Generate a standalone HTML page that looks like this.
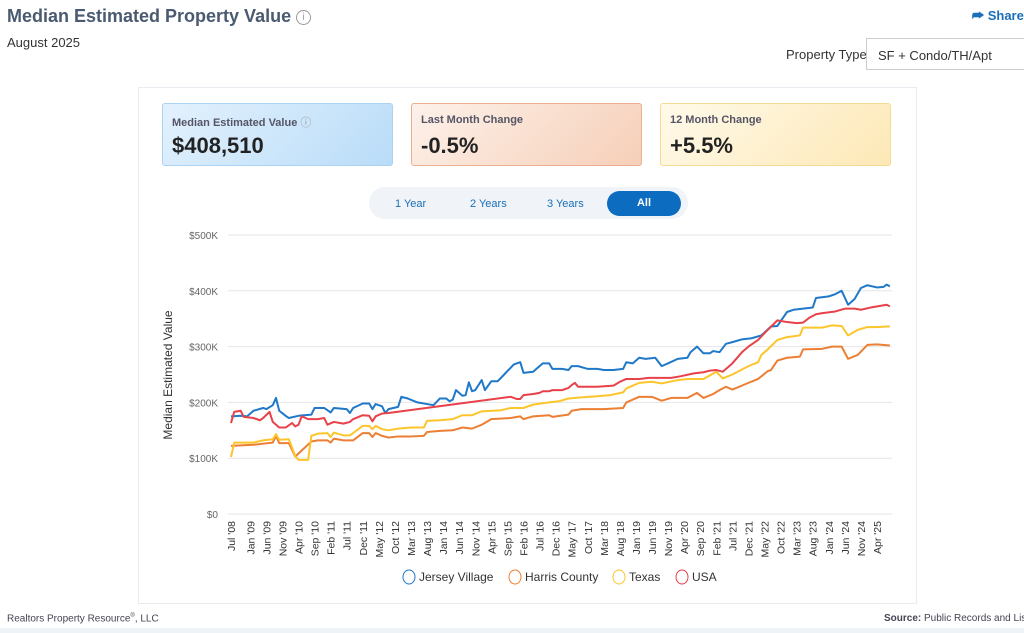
<!DOCTYPE html>
<html><head><meta charset="utf-8"><style>
body{margin:0;width:1024px;height:633px;background:#fff;font-family:"Liberation Sans",sans-serif;position:relative;overflow:hidden;color:#333}
.abs{position:absolute}
.card{position:absolute;top:103px;height:63px;width:231px;border-radius:3px;box-sizing:border-box}
.card .t{position:absolute;left:9px;top:10px;font-size:11px;font-weight:bold;color:#556}
.card .v{position:absolute;left:9px;top:29px;font-size:22px;font-weight:bold;color:#222}
.tog{position:absolute;top:198px;font-size:11px;color:#1a6fb8}
</style></head><body>
<div class="abs" style="left:7px;top:6px;font-size:18px;font-weight:bold;color:#4a5a70">Median Estimated Property Value <span style="display:inline-block;width:13px;height:13px;border:1px solid #999;border-radius:50%;font-size:10px;text-align:center;line-height:13px;color:#999;font-weight:normal;vertical-align:2px">i</span></div>
<div class="abs" style="left:7px;top:35px;font-size:13px">August 2025</div>
<div class="abs" style="left:972px;top:8px;font-size:13px;font-weight:bold;color:#1a6fb8">⮫ Share</div>
<div class="abs" style="left:786px;top:47px;font-size:13px">Property Type</div>
<div class="abs" style="left:866px;top:38px;width:170px;height:32px;border:1px solid #ccc;box-sizing:border-box;font-size:13px;padding:9px 0 0 11px">SF + Condo/TH/Apt</div>
<div class="abs" style="left:138px;top:87px;width:779px;height:517px;border:1px solid #e8ecf0;box-sizing:border-box"></div>
<div class="card" style="left:162px;background:linear-gradient(135deg,#e3f1fd,#b9dcf8);border:1px solid #a9d2f3"><div class="t">Median Estimated Value <span style="color:#999;font-weight:normal">ⓘ</span></div><div class="v">$408,510</div></div>
<div class="card" style="left:411px;background:linear-gradient(135deg,#fdf1ea,#f6cfb8);border:1px solid #eab08f"><div class="t">Last Month Change</div><div class="v">-0.5%</div></div>
<div class="card" style="left:660px;background:linear-gradient(135deg,#fffaea,#fde8b6);border:1px solid #f6dc92"><div class="t">12 Month Change</div><div class="v">+5.5%</div></div>
<div class="abs" style="left:369px;top:187px;width:319px;height:32px;background:#f0f3f7;border-radius:16px"></div>
<div class="tog" style="left:395px">1 Year</div>
<div class="tog" style="left:470px">2 Years</div>
<div class="tog" style="left:547px">3 Years</div>
<div class="abs" style="left:607px;top:191px;width:74px;height:25px;background:#0b6cc0;border-radius:13px;color:#fff;font-size:11px;font-weight:bold;text-align:center;line-height:25px">All</div>
<svg class="abs" style="left:0;top:0" width="1024" height="633" id="chart"></svg>
<div class="abs" style="left:0;top:606px;width:1024px;height:22px;font-size:10px"><span style="position:absolute;left:7px;top:7px;color:#445">Realtors Property Resource<sup style="font-size:6px">®</sup>, LLC</span><span style="position:absolute;left:884px;top:7px;color:#445;white-space:nowrap"><b>Source:</b> Public Records and Listings</span></div>
<div class="abs" style="left:0;top:628px;width:1024px;height:5px;background:#eef3f8"></div>
<script>
const yTicks=[0,100,200,300,400,500];
const xLabels=["Jul '08","Jan '09","Jun '09","Nov '09","Apr '10","Sep '10","Feb '11","Jul '11","Dec '11","May '12","Oct '12","Mar '13","Aug '13","Jan '14","Jun '14","Nov '14","Apr '15","Sep '15","Feb '16","Jul '16","Dec '16","May '17","Oct '17","Mar '18","Aug '18","Jan '19","Jun '19","Nov '19","Apr '20","Sep '20","Feb '21","Jul '21","Dec '21","May '22","Oct '22","Mar '23","Aug '23","Jan '24","Jun '24","Nov '24","Apr '25"];
const xLabelMonths=[0,6,11,16,21,26,31,36,41,46,51,56,61,66,71,76,81,86,91,96,101,106,111,116,121,126,131,136,141,146,151,156,161,166,171,176,181,186,191,196,201];
const seriesNames=["Jersey Village","Harris County","Texas","USA"];
const seriesColors=["#1f78c8","#ec7f33","#fcc52b","#e8414a"];
// [monthIndex from Jul 2008, value in $K]
const jerseyVillage=[[0,175],[3,176],[5,175],[7,185],[10,190],[11,188],[13,195],[14,208],[15,185],[17,176],[18,172],[21,176],[25,178],[26,190],[29,190],[31,182],[32,190],[36,188],[37,181],[38,190],[41,198],[43,198],[44,188],[45,197],[47,193],[48,181],[49,188],[52,192],[53,210],[55,207],[58,200],[61,197],[63,195],[65,207],[67,207],[68,202],[69,205],[70,222],[72,212],[73,213],[74,236],[75,220],[76,222],[78,240],[79,222],[81,238],[83,238],[85,250],[88,268],[90,272],[91,253],[94,255],[97,270],[99,270],[100,260],[103,260],[105,258],[106,265],[108,265],[111,260],[114,260],[116,258],[119,258],[122,260],[123,272],[125,270],[127,280],[129,278],[132,280],[134,265],[136,270],[139,278],[142,280],[143,290],[145,300],[147,288],[149,288],[150,292],[152,290],[154,305],[156,308],[159,313],[162,315],[165,320],[168,336],[170,337],[173,362],[175,366],[178,368],[181,370],[182,387],[186,390],[188,394],[190,400],[192,375],[194,385],[196,405],[198,410],[201,406],[203,407],[204,411],[205,408]];
const harrisCounty=[[0,122],[7,124],[10,126],[13,128],[14,140],[15,127],[18,127],[20,103],[25,130],[27,132],[30,132],[31,128],[32,135],[35,132],[38,132],[41,145],[43,145],[44,138],[45,145],[47,140],[49,137],[52,139],[56,139],[60,140],[61,147],[65,149],[69,150],[72,155],[75,153],[78,160],[81,170],[87,172],[90,175],[91,170],[94,175],[99,177],[100,174],[105,178],[106,185],[109,188],[116,188],[122,190],[123,200],[127,210],[131,210],[134,203],[137,208],[142,208],[145,217],[147,208],[150,215],[152,222],[154,228],[156,223],[161,235],[164,242],[167,256],[168,258],[170,275],[173,280],[177,282],[178,295],[184,296],[187,300],[190,300],[192,278],[195,285],[198,303],[201,304],[205,302]];
const texas=[[0,102],[1,128],[7,128],[10,132],[13,134],[14,143],[15,133],[18,134],[20,104],[21,97],[24,97],[25,140],[27,144],[30,145],[31,138],[32,146],[35,141],[37,141],[38,145],[41,158],[43,158],[44,152],[45,158],[47,152],[49,150],[52,153],[56,155],[60,155],[61,167],[65,168],[69,170],[72,177],[75,177],[78,184],[84,186],[87,190],[91,190],[94,196],[99,200],[102,202],[105,207],[109,209],[114,211],[118,213],[122,218],[123,225],[127,235],[131,237],[134,234],[139,240],[142,242],[145,242],[147,242],[151,255],[153,243],[156,250],[161,265],[164,272],[165,285],[167,295],[170,312],[173,317],[177,320],[178,334],[184,334],[187,338],[190,337],[192,320],[195,330],[198,335],[201,335],[204,336],[205,336]];
const usa=[[0,163],[1,183],[3,185],[4,174],[7,172],[9,168],[10,172],[12,183],[13,165],[15,155],[17,155],[19,163],[20,157],[21,160],[22,175],[24,170],[27,170],[29,172],[30,160],[32,165],[35,162],[37,165],[38,170],[41,177],[43,176],[44,166],[45,175],[47,180],[49,181],[87,210],[89,206],[90,206],[91,213],[94,215],[96,217],[97,220],[99,220],[100,222],[103,222],[105,226],[106,231],[107,235],[108,228],[114,228],[119,230],[121,237],[123,242],[127,242],[130,244],[133,244],[137,244],[140,247],[144,252],[147,254],[149,257],[151,258],[153,255],[156,270],[159,290],[161,300],[164,312],[167,330],[170,347],[173,344],[176,342],[178,343],[180,352],[182,358],[184,360],[188,363],[191,368],[194,368],[196,366],[199,370],[202,373],[204,375],[205,372]];
const allSeries=[jerseyVillage,harrisCounty,texas,usa];

const svg=document.getElementById('chart');const NS='http://www.w3.org/2000/svg';
const x=m=>231+m*3.214, y=v=>514-v*0.558;
function mk(t,a,p){const e=document.createElementNS(NS,t);for(const k in a)e.setAttribute(k,a[k]);(p||svg).appendChild(e);return e;}
yTicks.forEach(v=>{
 const g=mk('line',{x1:228,x2:892,y1:y(v),y2:y(v),stroke:'#e6e6e6'});
 
 
 const t=mk('text',{x:218,y:y(v)+4,'text-anchor':'end','font-size':10,fill:'#666'});
 t.textContent=v===0?'$0':'$'+v+'K';
 
 
});
const yt=mk('text',{x:0,y:0,transform:'translate(172,375) rotate(-90)','text-anchor':'middle','font-size':12,fill:'#333'});
yt.textContent='Median Estimated Value';


xLabels.forEach((l,i)=>{
 const t=mk('text',{x:0,y:0,transform:`translate(${x(xLabelMonths[i])+4},521) rotate(-90)`,'text-anchor':'end','font-size':10.5,fill:'#333'});
 t.textContent=l;
 
 
});
allSeries.forEach((s,i)=>{
 const p=mk('polyline',{points:s.map(d=>x(d[0])+','+y(d[1])).join(' '),fill:'none',stroke:seriesColors[i],'stroke-width':2,'stroke-linejoin':'round'});
 
 
});
const lx=[403,509,613,676];
seriesNames.forEach((n,i)=>{
 const c=mk('ellipse',{cx:lx[i]+6,cy:577,rx:6,ry:7,fill:'none',stroke:seriesColors[i],'stroke-width':1});
 
 
 const t=mk('text',{x:lx[i]+16,y:581,'font-size':12,fill:'#333'});
 t.textContent=n;
 
 
});
</script>
</body></html>
